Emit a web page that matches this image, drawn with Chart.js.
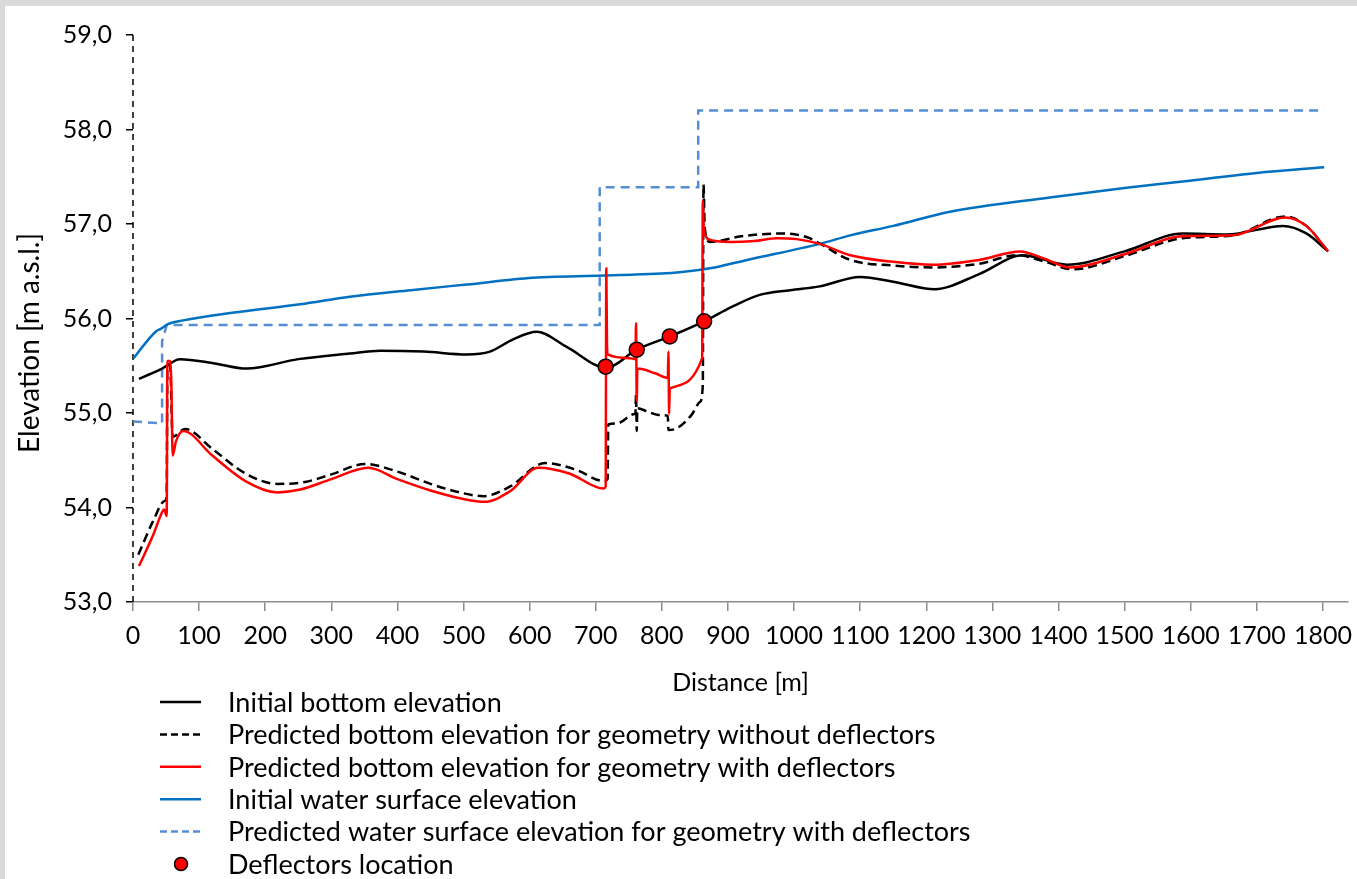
<!DOCTYPE html>
<html>
<head>
<meta charset="utf-8">
<script src="https://cdn.jsdelivr.net/npm/chart.js@4.4.0/dist/chart.umd.min.js"></script>
<style>
  html, body { margin: 0; padding: 0; background: #d9d9d9; width: 1357px; height: 879px; overflow: hidden; }
  #wrap { position: absolute; left: 5px; top: 6px; width: 1352px; height: 873px; background: #fff; }
</style>
</head>
<body>
<div id="wrap"><canvas id="chart" width="1352" height="873"></canvas></div>
<script>
// ---- Daten (Distanz in m, Höhe in m ü.M.) ----
const bedInitX = [9, 25, 44, 71, 120, 172, 250, 328, 374, 440, 505, 540, 575, 611, 656, 716, 762, 812, 864, 905, 948, 994, 1039, 1100, 1150, 1213, 1280, 1346, 1413, 1500, 1588, 1655, 1740, 1775, 1808];
const bedInitY = [55.36, 55.41, 55.47, 55.57, 55.53, 55.47, 55.57, 55.63, 55.66, 55.65, 55.62, 55.65, 55.78, 55.86, 55.70, 55.48, 55.67, 55.81, 55.97, 56.12, 56.25, 56.30, 56.34, 56.44, 56.39, 56.31, 56.47, 56.67, 56.57, 56.71, 56.90, 56.89, 56.98, 56.90, 56.71];

const bedNoDefX = [8, 30, 48, 51, 52, 56, 60, 79, 120, 170, 218, 260, 300, 351, 400, 450, 500, 530, 570, 623, 670, 712, 718, 719, 732, 759, 760, 761, 762, 763, 777, 795, 809, 810, 823, 845, 858, 862, 863, 865, 873, 920, 979, 1020, 1040, 1085, 1150, 1210, 1280, 1337, 1380, 1422, 1500, 1588, 1664, 1743, 1775, 1808];
const bedNoDefY = [53.50, 53.85, 54.07, 54.12, 55.50, 55.50, 54.75, 54.83, 54.62, 54.36, 54.25, 54.27, 54.35, 54.46, 54.38, 54.25, 54.15, 54.12, 54.22, 54.47, 54.40, 54.28, 54.30, 54.88, 54.89, 54.99, 54.99, 55.20, 54.81, 55.05, 55.02, 54.98, 54.97, 54.82, 54.84, 54.98, 55.12, 55.30, 57.42, 56.95, 56.81, 56.87, 56.90, 56.86, 56.79, 56.62, 56.56, 56.54, 56.58, 56.67, 56.60, 56.52, 56.66, 56.85, 56.88, 57.08, 56.98, 56.71];

const bedDefX = [9, 30, 44, 47, 51, 52, 56, 58, 60, 65, 76, 120, 170, 218, 253, 300, 356, 400, 450, 500, 532, 570, 613, 660, 712, 715, 716, 717, 718, 752, 760, 761, 762, 763, 790, 809, 810, 811, 812, 861, 862, 863, 866, 870, 903, 940, 974, 1004, 1039, 1085, 1150, 1210, 1280, 1342, 1380, 1417, 1500, 1588, 1664, 1743, 1775, 1808];
const bedDefY = [53.38, 53.70, 53.95, 53.98, 53.91, 55.55, 55.55, 55.30, 54.55, 54.70, 54.81, 54.55, 54.28, 54.16, 54.19, 54.30, 54.42, 54.30, 54.18, 54.09, 54.06, 54.17, 54.42, 54.36, 54.20, 54.22, 56.53, 55.75, 55.62, 55.58, 55.57, 55.95, 55.13, 55.47, 55.42, 55.37, 55.65, 54.99, 55.26, 55.58, 57.25, 57.00, 56.88, 56.84, 56.81, 56.82, 56.85, 56.84, 56.79, 56.67, 56.60, 56.57, 56.62, 56.71, 56.63, 56.54, 56.68, 56.87, 56.88, 57.07, 56.98, 56.71];

const wsInitX = [1, 20, 36, 42, 53, 76, 150, 253, 328, 420, 505, 605, 737, 827, 880, 929, 1039, 1085, 1150, 1236, 1387, 1500, 1588, 1700, 1802];
const wsInitY = [55.58, 55.75, 55.87, 55.89, 55.94, 55.98, 56.06, 56.15, 56.23, 56.30, 56.36, 56.43, 56.46, 56.49, 56.54, 56.62, 56.79, 56.88, 56.98, 57.13, 57.28, 57.38, 57.45, 57.54, 57.60];

const wsDefX = [0, 44, 44, 51, 706, 706, 855, 855, 1802];
const wsDefY = [54.91, 54.89, 55.76, 55.93, 55.93, 57.39, 57.39, 58.20, 58.20];

const deflX = [715, 762, 812, 864];
const deflY = [55.49, 55.67, 55.81, 55.97];

const yTicks = [53, 54, 55, 56, 57, 58, 59];
const legendLabels = [
  'Initial bottom elevation',
  'Predicted bottom elevation for geometry without deflectors',
  'Predicted bottom elevation for geometry with deflectors',
  'Initial water surface elevation',
  'Predicted water surface elevation for geometry with deflectors',
  'Deflectors location'
];

const FONT = 'Lato, "Open Sans", sans-serif';

function pts(xs, ys) {
  return xs.map((x, i) => ({ x: x, y: ys[i] }));
}

function lineSet(label, xs, ys, color, dash, order, smooth) {
  return {
    label: label,
    data: pts(xs, ys),
    showLine: true,
    borderColor: color,
    backgroundColor: color,
    borderWidth: 2.5,
    borderDash: dash,
    pointRadius: 0,
    cubicInterpolationMode: smooth ? 'monotone' : 'default',
    tension: 0,
    order: order
  };
}

// ---- gestrichelte y-Achse ----
const dashedAxis = {
  id: 'dashedAxis',
  beforeDatasetsDraw(chart) {
    const ctx = chart.ctx;
    const x0 = chart.scales.x.getPixelForValue(0);
    const area = chart.chartArea;
    ctx.save();
    ctx.strokeStyle = '#000';
    ctx.lineWidth = 1.5;
    ctx.setLineDash([6, 5]);
    ctx.beginPath();
    ctx.moveTo(x0, area.top);
    ctx.lineTo(x0, area.bottom);
    ctx.stroke();
    ctx.restore();
  }
};

// ---- eigene Legende + y-Titel ----
const legendPlugin = {
  id: 'ownLegend',
  afterDraw(chart) {
    const ctx = chart.ctx;
    ctx.save();
    // y-Achsentitel
    ctx.translate(25, 337);
    ctx.rotate(-Math.PI / 2);
    ctx.font = '28px ' + FONT;
    ctx.fillStyle = '#000';
    ctx.textAlign = 'center';
    ctx.textBaseline = 'middle';
    ctx.fillText('Elevation [m a.s.l.]', 0, 0);
    ctx.restore();

    ctx.save();
    ctx.font = '27px ' + FONT;
    ctx.textBaseline = 'middle';
    chart.data.datasets.forEach((ds, i) => {
      const y = 696 + i * 32.4;
      if (ds.showLine) {
        ctx.beginPath();
        ctx.strokeStyle = ds.borderColor;
        ctx.lineWidth = 2.5;
        ctx.setLineDash(ds.borderDash.length ? [7, 4] : []);
        ctx.moveTo(155, y);
        ctx.lineTo(196, y);
        ctx.stroke();
        ctx.setLineDash([]);
      } else {
        ctx.beginPath();
        ctx.arc(176, y, 6.5, 0, Math.PI * 2);
        ctx.fillStyle = ds.backgroundColor;
        ctx.fill();
        ctx.lineWidth = 1.5;
        ctx.strokeStyle = '#000';
        ctx.stroke();
      }
      ctx.fillStyle = '#000';
      ctx.fillText(legendLabels[i], 223, y + 1);
    });
    ctx.restore();
  }
};

const ctx = document.getElementById('chart').getContext('2d');
new Chart(ctx, {
  type: 'scatter',
  data: {
    datasets: [
      lineSet(legendLabels[0], bedInitX, bedInitY, '#000000', [], 3, true),
      lineSet(legendLabels[1], bedNoDefX, bedNoDefY, '#000000', [9, 5], 2, true),
      lineSet(legendLabels[2], bedDefX, bedDefY, '#ff0000', [], 1, true),
      lineSet(legendLabels[3], wsInitX, wsInitY, '#0070c0', [], 4, true),
      lineSet(legendLabels[4], wsDefX, wsDefY, '#558ed5', [9, 6], 5, false),
      {
        label: legendLabels[5],
        data: pts(deflX, deflY),
        showLine: false,
        borderDash: [],
        pointRadius: 7.5,
        pointBackgroundColor: '#ff0000',
        backgroundColor: '#ff0000',
        pointBorderColor: '#000000',
        pointBorderWidth: 1.5,
        order: 0
      }
    ]
  },
  options: {
    responsive: false,
    animation: false,
    layout: { padding: { top: 26, right: 0, left: 0, bottom: 177 } },
    plugins: {
      legend: { display: false },
      tooltip: { enabled: false }
    },
    scales: {
      x: {
        type: 'linear',
        min: 0,
        max: 1838,
        afterBuildTicks(scale) {
          const t = [];
          for (let v = 0; v <= 1800; v += 100) t.push({ value: v });
          scale.ticks = t;
        },
        afterFit(scale) {
          scale.height = 100;
          scale.paddingRight = 0;
          scale.paddingLeft = 0;
        },
        border: { display: true, color: '#8c8c8c', width: 1.5 },
        grid: { drawOnChartArea: false, drawTicks: true, tickLength: 9, color: '#8c8c8c', lineWidth: 1.5 },
        ticks: {
          color: '#000',
          font: { family: FONT, size: 25 },
          padding: 10,
          maxRotation: 0,
          autoSkip: false,
          callback: v => String(v)
        },
        title: {
          display: true,
          text: 'Distance [m]',
          color: '#000',
          font: { family: FONT, size: 25 },
          padding: { top: 0, bottom: 4 }
        }
      },
      y: {
        type: 'linear',
        min: 53,
        max: 59,
        afterBuildTicks(scale) {
          scale.ticks = yTicks.map(v => ({ value: v }));
        },
        afterFit(scale) { scale.width = 128; },
        border: { display: false },
        grid: { drawOnChartArea: false, drawTicks: true, tickLength: 7, color: '#000', lineWidth: 1.5 },
        ticks: {
          color: '#000',
          font: { family: FONT, size: 25 },
          padding: 14,
          callback: v => v.toFixed(1).replace('.', ',')
        }
      }
    }
  },
  plugins: [dashedAxis, legendPlugin]
});
</script>
</body>
</html>
